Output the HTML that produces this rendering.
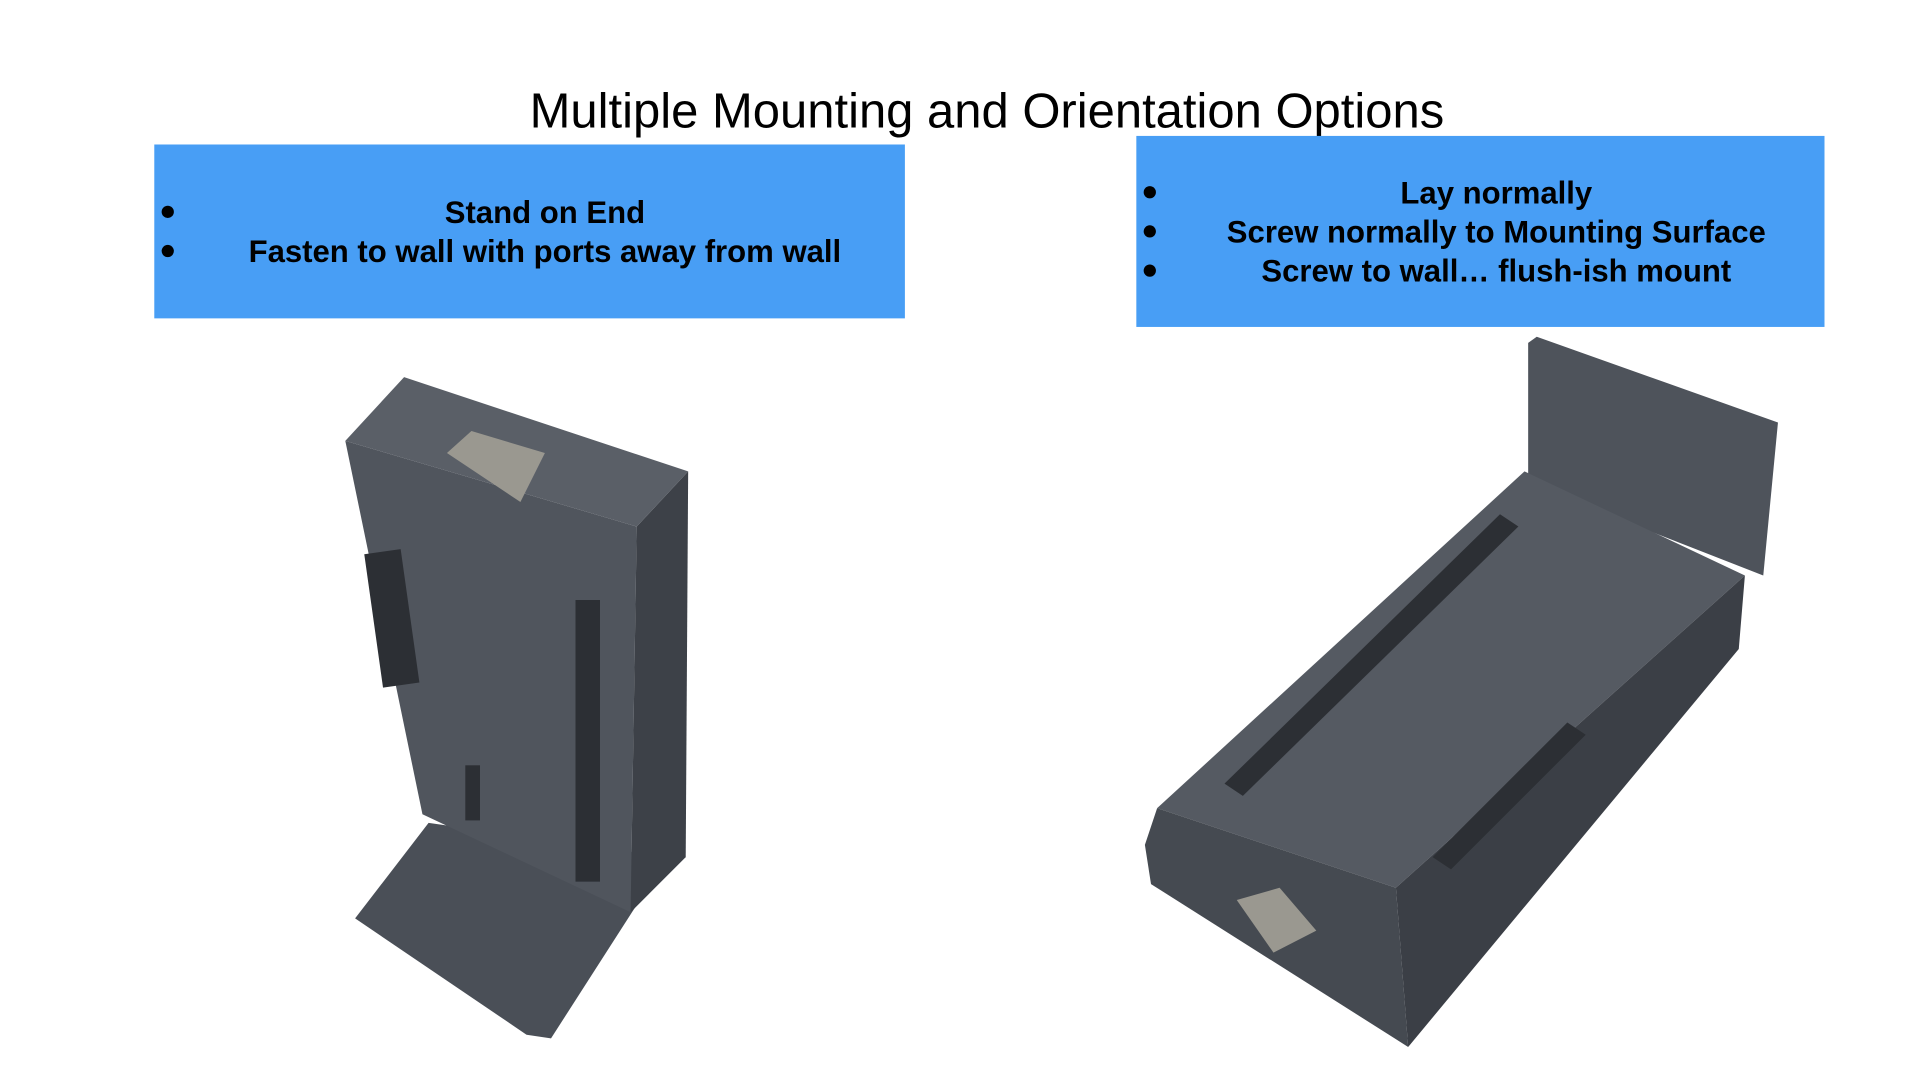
<!DOCTYPE html>
<html><head><meta charset="utf-8"><style>
html,body{margin:0;padding:0;background:#fff;width:1920px;height:1080px;overflow:hidden}
svg{display:block}
text{font-family:"Liberation Sans",sans-serif}
</style></head><body>
<svg width="1920" height="1080" viewBox="0 0 1568 882" xmlns="http://www.w3.org/2000/svg">
<text x="806" y="104" font-size="40" text-anchor="middle" fill="#000">Multiple Mounting and Orientation Options</text>
<rect x="126" y="118" width="613" height="142" fill="#489ef5"/>
<rect x="928" y="111" width="562" height="156" fill="#489ef5"/>
<g font-size="25.4" font-weight="bold" fill="#000" text-anchor="middle">
<text x="445" y="182">Stand on End</text>
<text x="445" y="214">Fasten to wall with ports away from wall</text>
<text x="1222" y="166">Lay normally</text>
<text x="1222" y="198">Screw normally to Mounting Surface</text>
<text x="1222" y="230">Screw to wall… flush-ish mount</text>
</g>
<g fill="#000"><circle cx="137" cy="173" r="5"/><circle cx="137" cy="205" r="5"/>
<circle cx="939" cy="157" r="5"/><circle cx="939" cy="189" r="5"/><circle cx="939" cy="221" r="5"/></g>
<!-- left device -->
<polygon points="290,750 350,672 545,700 450,848 430,845" fill="#4a4f57"/>
<polygon points="282,360 520,430 515,745 345,665" fill="#50555d"/>
<polygon points="520,430 562,385 560,700 515,745" fill="#3d4148"/>
<polygon points="282,360 330,308 562,385 520,430" fill="#5a5f67"/>
<polygon points="365,370 385,352 445,370 425,410" fill="#9a9890"/>
<rect x="305" y="450" width="30" height="110" fill="#2c2f34" transform="rotate(-8 320 505)"/>
<rect x="470" y="490" width="20" height="230" fill="#2c2f34"/>
<rect x="380" y="625" width="12" height="45" fill="#2c2f34"/>
<!-- right device -->
<polygon points="1248,280 1255,275 1452,345 1440,470 1248,395" fill="#4e535b"/>
<polygon points="945,660 1245,385 1425,470 1140,725" fill="#555a62"/>
<polygon points="935,690 945,660 1140,725 1150,855 940,722" fill="#454a51"/>
<polygon points="1140,725 1425,470 1420,530 1150,855" fill="#3b3f46"/>
<polygon points="1000,640 1225,420 1240,430 1015,650" fill="#2c2f34"/>
<polygon points="1170,700 1280,590 1295,600 1185,710" fill="#2c2f34"/>
<polygon points="1010,735 1045,725 1075,760 1040,778" fill="#9a9890"/>
</svg>
</body></html>
